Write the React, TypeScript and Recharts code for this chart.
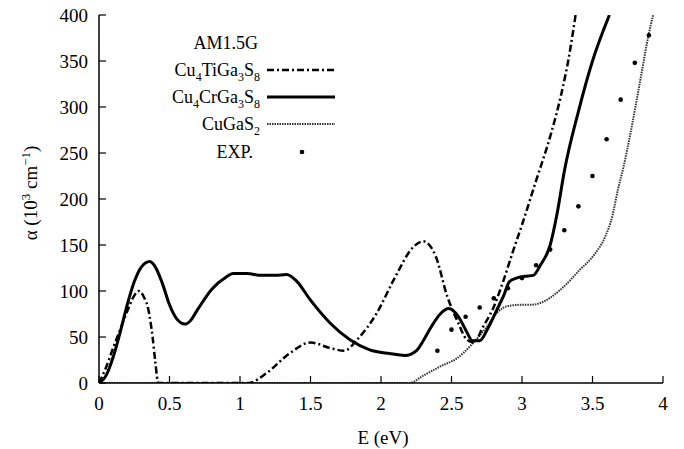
import React from 'react';
import { ComposedChart, Line, Scatter, XAxis, YAxis, Legend } from 'recharts';

// Cu4TiGa3S8 (dash-dot)
const tiE = [0, 0.05, 0.1, 0.15, 0.2, 0.25, 0.28, 0.32, 0.35, 0.38, 0.4, 0.42, 0.5, 0.7, 0.9, 1.06, 1.19, 1.35, 1.5, 1.64, 1.74, 1.83, 1.97, 2.09, 2.23, 2.3, 2.39, 2.47, 2.54, 2.61, 2.66, 2.72, 2.8, 2.87, 2.94, 3.0, 3.1, 3.2, 3.28, 3.33, 3.38];
const tiA = [0, 17, 38, 58, 78, 95, 100, 93, 80, 50, 22, 0, 0, 0, 0, 0, 11, 32, 44, 38, 35, 47, 76, 112, 148, 154, 137, 94, 68, 47, 44, 60, 83, 112, 145, 172, 220, 268, 315, 352, 400];

// Cu4CrGa3S8 (solid)
const crE = [0, 0.05, 0.1, 0.15, 0.2, 0.25, 0.3, 0.36, 0.4, 0.45, 0.5, 0.55, 0.61, 0.65, 0.7, 0.8, 0.9, 0.95, 1.05, 1.15, 1.25, 1.33, 1.4, 1.5, 1.64, 1.78, 1.92, 2.06, 2.17, 2.25, 2.3, 2.36, 2.42, 2.48, 2.55, 2.6, 2.65, 2.7, 2.76, 2.82, 2.87, 2.91, 2.96, 3.02, 3.08, 3.13, 3.2, 3.25, 3.3, 3.4, 3.5, 3.62];
const crA = [0, 8, 28, 55, 85, 110, 126, 132, 126, 108, 85, 70, 64, 68, 80, 102, 115, 119, 119, 117, 117, 118, 111, 90, 65, 47, 36, 32, 30, 35, 46, 62, 75, 81, 72, 58, 46, 46, 60, 79, 95, 110, 114, 116, 117, 128, 150, 185, 230, 295, 350, 400];

// CuGaS2 (thin dotted)
const gaE = [0, 0.5, 1, 1.5, 2, 2.2, 2.3, 2.42, 2.54, 2.65, 2.75, 2.82, 2.91, 3.0, 3.06, 3.13, 3.27, 3.41, 3.52, 3.59, 3.64, 3.68, 3.72, 3.77, 3.84, 3.9, 3.93];
const gaA = [0, 0, 0, 0, 0, 0, 8, 18, 27, 43, 61, 76, 84, 85, 85, 87, 101, 123, 141, 159, 181, 210, 235, 272, 330, 380, 400];

// EXP. points
const expE = [2.4, 2.5, 2.6, 2.7, 2.8, 2.9, 3.0, 3.1, 3.2, 3.3, 3.4, 3.5, 3.6, 3.7, 3.8, 3.9];
const expA = [35, 58, 72, 82, 92, 103, 114, 128, 145, 166, 192, 225, 265, 308, 348, 378];

const xTicks = [0, 0.5, 1, 1.5, 2, 2.5, 3, 3.5, 4];
const yTicks = [0, 50, 100, 150, 200, 250, 300, 350, 400];

const toPoints = (es: number[], as: number[]) => es.map((e, i) => ({ e, a: as[i] }));

const FONT = "'Times New Roman', Tinos, 'Liberation Serif', 'Noto Serif', 'DejaVu Serif', serif";
const TI_DASH = '7 3 2 3';
const GA_DASH = '1.5 1';

const LegendBox = () => {
  const tx = 260;
  return (
    <svg width={684} height={449} style={{ fontFamily: FONT, fontSize: 18 }}>
      <text x={258} y={49} textAnchor="end">AM1.5G</text>
      <text x={tx} y={76} textAnchor="end">
        Cu<tspan dy={5} fontSize={12}>4</tspan><tspan dy={-5}>TiGa</tspan><tspan dy={5} fontSize={12}>3</tspan><tspan dy={-5}>S</tspan><tspan dy={5} fontSize={12}>8</tspan>
      </text>
      <line x1={267} x2={335} y1={70} y2={70} stroke="#000" strokeWidth={2.5} strokeDasharray={TI_DASH} />
      <text x={tx} y={103} textAnchor="end">
        Cu<tspan dy={5} fontSize={12}>4</tspan><tspan dy={-5}>CrGa</tspan><tspan dy={5} fontSize={12}>3</tspan><tspan dy={-5}>S</tspan><tspan dy={5} fontSize={12}>8</tspan>
      </text>
      <line x1={267} x2={335} y1={97} y2={97} stroke="#000" strokeWidth={3} />
      <text x={tx} y={130} textAnchor="end">
        CuGaS<tspan dy={5} fontSize={12}>2</tspan>
      </text>
      <line x1={267} x2={335} y1={124} y2={124} stroke="#333" strokeWidth={2} strokeDasharray={GA_DASH} />
      <text x={253} y={158} textAnchor="end">EXP.</text>
      <circle cx={302} cy={152} r={2.3} fill="#000" />
    </svg>
  );
};

const YLabel = () => {
  const cx = 37;
  const cy = 193;
  return (
    <text transform={`rotate(-90, ${cx}, ${cy})`} x={cx} y={cy} textAnchor="middle" style={{ fontFamily: FONT, fontSize: 19 }} fill="#000">
      α (10<tspan dy={-7} fontSize={13}>3</tspan><tspan dy={7}> cm</tspan><tspan dy={-7} fontSize={13}>−1</tspan><tspan dy={7}>)</tspan>
    </text>
  );
};

const XLabel = () => (
  <text x={383} y={444} textAnchor="middle" style={{ fontFamily: FONT, fontSize: 19 }} fill="#000">E (eV)</text>
);

const Dot = (props: { cx?: number; cy?: number }) => (
  <circle cx={props.cx} cy={props.cy} r={2.3} fill="#000" />
);

export default function App() {
  const tickStyle = { fontSize: 19, fill: '#000', fontFamily: FONT };
  const axisLine = { stroke: '#000', strokeWidth: 1.5 };
  const tickLine = { stroke: '#000', strokeWidth: 1.2 };
  return (
    <div style={{ position: 'absolute', left: 0, top: 0, width: 684, height: 449, background: '#fff', fontFamily: FONT }}>
      <ComposedChart width={684} height={449} margin={{ top: 15, right: 21, bottom: 0, left: 0 }}>
        <XAxis
          dataKey="e"
          type="number"
          domain={[0, 4]}
          ticks={xTicks}
          allowDataOverflow
          height={66}
          tickSize={-7}
          tickMargin={21}
          tick={tickStyle}
          axisLine={axisLine}
          tickLine={tickLine}
          label={<XLabel />}
        />
        <XAxis
          xAxisId="top"
          orientation="top"
          dataKey="e"
          type="number"
          domain={[0, 4]}
          ticks={xTicks}
          allowDataOverflow
          height={0}
          tickSize={-7}
          tickFormatter={() => ''}
          axisLine={axisLine}
          tickLine={tickLine}
        />
        <YAxis
          type="number"
          domain={[0, 400]}
          ticks={yTicks}
          allowDataOverflow
          width={99}
          tickSize={-7}
          tickMargin={18}
          tick={tickStyle}
          axisLine={axisLine}
          tickLine={tickLine}
          label={<YLabel />}
        />
        <YAxis
          yAxisId="right"
          orientation="right"
          type="number"
          domain={[0, 400]}
          ticks={yTicks}
          allowDataOverflow
          width={0}
          tickSize={-7}
          tickFormatter={() => ''}
          axisLine={axisLine}
          tickLine={tickLine}
        />
        <Line data={toPoints(gaE, gaA)} dataKey="a" type="monotone" stroke="#333" strokeWidth={2} strokeDasharray={GA_DASH} dot={false} isAnimationActive={false} />
        <Line data={toPoints(tiE, tiA)} dataKey="a" type="monotone" stroke="#000" strokeWidth={2.5} strokeDasharray={TI_DASH} dot={false} isAnimationActive={false} />
        <Line data={toPoints(crE, crA)} dataKey="a" type="monotone" stroke="#000" strokeWidth={3} dot={false} isAnimationActive={false} />
        <Scatter data={toPoints(expE, expA)} dataKey="a" shape={<Dot />} isAnimationActive={false} />
        <Legend layout="vertical" align="center" verticalAlign="middle" wrapperStyle={{ left: 0, top: 0, width: 684, height: 449, pointerEvents: 'none' }} content={<LegendBox />} />
      </ComposedChart>
    </div>
  );
}
